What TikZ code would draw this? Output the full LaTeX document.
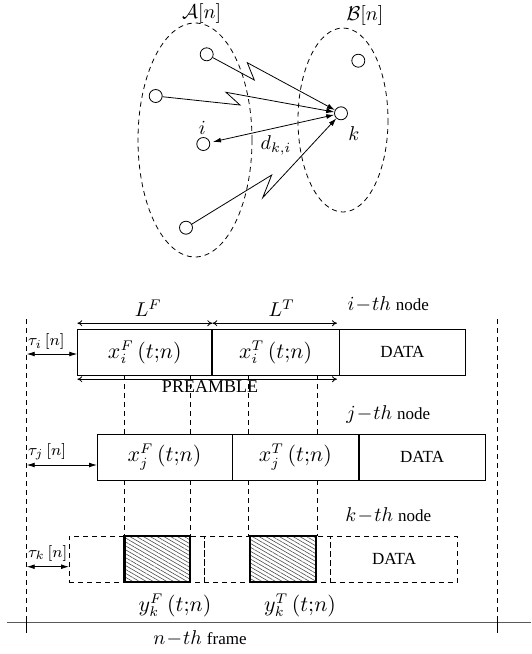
\documentclass[tikz,border=0pt]{standalone}
\usepackage{fontspec}
\setmainfont{Liberation Serif}
\usetikzlibrary{positioning,calc,arrows.meta,patterns.meta}
\definecolor{hatchc}{gray}{0.3}
\definecolor{framec}{gray}{0.35}

\begin{document}
\begin{tikzpicture}[x=0.5pt,y=-0.5pt]
\tikzstyle{stn}=[circle,draw,inner sep=0pt,minimum size=6.5pt];
\tikzstyle{grp}=[draw,dash pattern=on 2.5pt off 2pt];
\tikzstyle{guide}=[dash pattern=on 2.5pt off 2pt];
\tikzstyle{ray}=[-{Latex[length=4pt,width=2.6pt]}];
\tikzstyle{tarr}=[{Latex[length=4pt,width=2.4pt]}-{Latex[length=4pt,width=2.4pt]}];
\tikzstyle{dim}=[{To[length=2.5pt,width=3pt]}-{To[length=2.5pt,width=3pt]},thin];
\tikzstyle{mth}=[font=\fontsize{10}{12}\selectfont];
\tikzstyle{txt}=[font=\fontsize{9}{11}\selectfont];
\tikzstyle{fld}=[draw,minimum height=23pt,inner sep=0pt,outer sep=0pt,font=\fontsize{10.5}{13}\selectfont];
\tikzstyle{dat}=[fld,font=\fontsize{8.5}{10}\selectfont];
\tikzstyle{hatch}=[draw,line width=1.2pt,minimum width=32.85pt,minimum height=23pt,inner sep=0pt,
  pattern={Lines[angle=-30,distance=1.7pt,line width=0.3pt]},pattern color=hatchc];

\useasboundingbox (0,0) rectangle (531,654);

% sets A[n] and B[n]
\begin{scope}
        \draw[grp] (195,140) ellipse [x radius=57, y radius=117];
        \draw[grp] (343,120) ellipse [x radius=45, y radius=92];
        \node[mth] (la) at (201.7,13.3) {$\mathcal{A}[n]$};
        \node[mth] (lb) at (365,15) {$\mathcal{B}[n]$};

        \node[stn] (a1) at (206.7,54.3) {};
        \node[stn] (a2) at (155.7,96) {};
        \node[stn] (ai) at (203.3,144) {};
        \node[stn] (a4) at (186,227.7) {};
        \node[stn] (bk) at (341,113.3) {};
        \node[stn] (b1) at (358.3,60.7) {};

        \node[mth] (li) at (202.3,128.3) {$i$};
        \node[mth] (lk) at (354,133.3) {$k$};
        \node[mth] (ld) at (276,145) {$d_{k,i}$};

        \draw[ray] (a1) -- (254.3,80) -- (247.3,62.7) -- (bk);
        \draw[ray] (a2) -- (240,105) -- (226,92.3) -- (bk);
        \draw[ray] (a4) -- (271.7,175) -- (262.7,197.7) -- (bk);
        \draw[tarr,shorten <=1.5pt] (ai) -- (bk);
\end{scope}

% frames of the three nodes
\begin{scope}
        \coordinate (fl) at (26.7,319.3);
        \coordinate (fr) at (497.7,319.3);
        \coordinate (fa) at (6.7,622.7);
        \coordinate (fz) at (531,622.7);

        % i-th node
        \node[fld,minimum width=67.5pt] (fi) at (144.8,352.2) {$x_i^F\,(t{;}n)$};
        \node[fld,minimum width=63.35pt,anchor=west] (ti) at (fi.east) {$x_i^T\,(t{;}n)$};
        \node[dat,minimum width=63.35pt,anchor=west] (di) at (ti.east) {DATA};
        \draw[line width=1pt] (fi.north east) -- (fi.south east);

        % j-th node
        \node[fld,minimum width=67.5pt] (fj) at (164.5,457) {$x_j^F\,(t{;}n)$};
        \node[fld,minimum width=63.35pt,anchor=west] (tj) at (fj.east) {$x_j^T\,(t{;}n)$};
        \node[dat,minimum width=63.35pt,anchor=west] (dj) at (tj.east) {DATA};
        \draw[line width=1pt] (tj.north east) -- (tj.south east);

        % k-th node
        \node[fld,guide,minimum width=67.5pt] (fk) at (136.5,558.9) {};
        \node[fld,guide,minimum width=63.35pt,anchor=west] (tk) at (fk.east) {};
        \node[dat,guide,minimum width=63.35pt,anchor=west] (dk) at (tk.east) {DATA};
        \node[hatch] (hF) at (157.2,558.9) {};
        \node[hatch] (hT) at (282.9,558.9) {};

        \foreach \a in {hF.west,hF.east,hT.west,hT.east}{
          \draw[guide] (\a |- fi.south) -- (\a |- fj.north);
          \draw[guide] (\a |- fj.south) -- (\a |- hF.north);
        }

        % lengths
        \draw[dim] ([yshift=3pt]fi.north west) -- ([yshift=3pt]fi.north east);
        \draw[dim] ([yshift=3pt]ti.north west) -- ([yshift=3pt,xshift=-1pt]ti.north east);
        \draw[dim] ([yshift=-2pt]fi.south west) -- ([yshift=-2pt,xshift=-1pt]ti.south east);
        \node[mth] (lf) at (148.3,308.3) {$L^F$};
        \node[mth] (lt) at (281.7,308.3) {$L^T$};
        \node[txt] (pre) at (210,387) {PREAMBLE};

        \node (ni) at (388.3,304) {\fontsize{10}{12}\selectfont$i\!-\!th$ \fontsize{8.5}{10}\selectfont node};
        \node (nj) at (388.3,414) {\fontsize{10}{12}\selectfont$j\!-\!th$ \fontsize{8.5}{10}\selectfont node};
        \node (nk) at (388.3,515) {\fontsize{10}{12}\selectfont$k\!-\!th$ \fontsize{8.5}{10}\selectfont node};

        % delays
        \coordinate (ei) at ($(fi.west)+(0,1.8)$);
        \coordinate (ej) at ($(fj.west)+(0,8)$);
        \coordinate (ek) at ($(fk.west)+(0,7.8)$);
        \draw[tarr] (fl |- ei) -- (ei);
        \draw[tarr] (fl |- ej) -- (ej);
        \draw[tarr] (fl |- ek) -- (ek);
        \node[mth,anchor=west,inner sep=0.5pt,font=\fontsize{8}{10}\selectfont] (tai) at (26.7,341.7) {$\tau_i\,[n]$};
        \node[mth,anchor=west,inner sep=0.5pt,font=\fontsize{8}{10}\selectfont] (taj) at (26.7,451.7) {$\tau_j\,[n]$};
        \node[mth,anchor=west,inner sep=0.5pt,font=\fontsize{8}{10}\selectfont] (tak) at (26.7,553) {$\tau_k\,[n]$};

        \node[mth,font=\fontsize{10.5}{13}\selectfont] (yf) at (175,605) {$y_k^F\,(t{;}n)$};
        \node[mth,font=\fontsize{10.5}{13}\selectfont] (yt) at (300,605) {$y_k^T\,(t{;}n)$};

        % n-th frame
        \draw[guide] (fl) -- (fl |- fa);
        \draw[guide] (fr) -- (fr |- fa);
        \draw[framec,line width=0.7pt] (fa) -- (fz);
        \draw (fl |- fa) ++(0,-6) -- ++(0,16);
        \draw (fr |- fa) ++(0,-6) -- ++(0,16);
        \node (nf) at (200,638) {\fontsize{10}{12}\selectfont$n\!-\!th$ \fontsize{8.5}{10}\selectfont frame};
\end{scope}

\end{tikzpicture}
\end{document}
